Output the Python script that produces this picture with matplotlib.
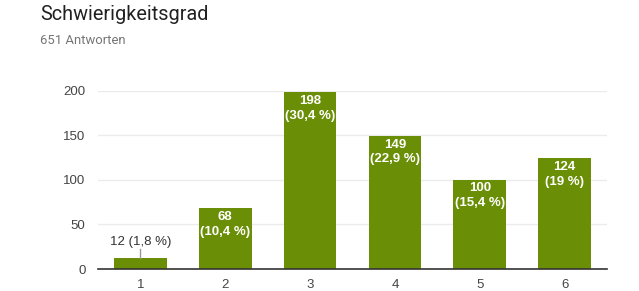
import matplotlib.pyplot as plt

# --- Data ---
categories = ["1", "2", "3", "4", "5", "6"]
counts = [12, 68, 198, 149, 100, 124]
percent_labels = ["1,8 %", "10,4 %", "30,4 %", "22,9 %", "15,4 %", "19 %"]
y_ticks = [0, 50, 100, 150, 200]

BAR_COLOR = "#6a8f06"
LABEL_FONT = ["Liberation Sans", "DejaVu Sans"]

fig = plt.figure(figsize=(6.39, 2.91), dpi=100)
ax = fig.add_axes([98 / 639, 1 - 269 / 291, (607 - 98) / 639, (269 - 90.5) / 291])

x = list(range(len(categories)))
bars = ax.bar(x, counts, width=0.62, color=BAR_COLOR, zorder=2)

ax.set_xlim(-0.5, len(categories) - 0.5)
ax.set_ylim(0, 200)
ax.set_yticks(y_ticks)
ax.set_xticks(x)
ax.set_xticklabels(categories)

for spine in ["top", "right", "left"]:
    ax.spines[spine].set_visible(False)
ax.spines["bottom"].set_color("#333333")
ax.spines["bottom"].set_linewidth(1.2)
ax.spines["bottom"].set_zorder(3)
ax.grid(axis="y", color="#ebebeb", linewidth=1, zorder=0)
ax.tick_params(axis="both", length=0, labelsize=9.5, colors="#444444")
ax.tick_params(axis="y", pad=9)
ax.tick_params(axis="x", pad=7)
for lbl in ax.get_xticklabels() + ax.get_yticklabels():
    lbl.set_family(LABEL_FONT)

# value labels
for xi, c, p in zip(x, counts, percent_labels):
    if c < 30:
        ax.plot([xi, xi], [c, c + 10], color="#999999", linewidth=1, zorder=3)
        ax.text(xi, c + 12, f"{c} ({p})", ha="center", va="bottom",
                fontsize=9.5, color="#333333", family=LABEL_FONT)
    else:
        ax.text(xi, c - 3, f"{c}\n({p})", ha="center", va="top",
                fontsize=9.5, color="white", fontweight="bold",
                linespacing=1.3, family=LABEL_FONT, zorder=4)

fig.text(40 / 639, 1 - 15 / 291, "Schwierigkeitsgrad", ha="left", va="center",
         fontsize=14.3, color="#212121", family=["Roboto", "DejaVu Sans"])
fig.text(40 / 639, 1 - 41 / 291, "651 Antworten", ha="left", va="center",
         fontsize=9.4, color="#757575", family=["Roboto", "DejaVu Sans"])

fig.savefig("out.png", dpi=100, facecolor="white")
